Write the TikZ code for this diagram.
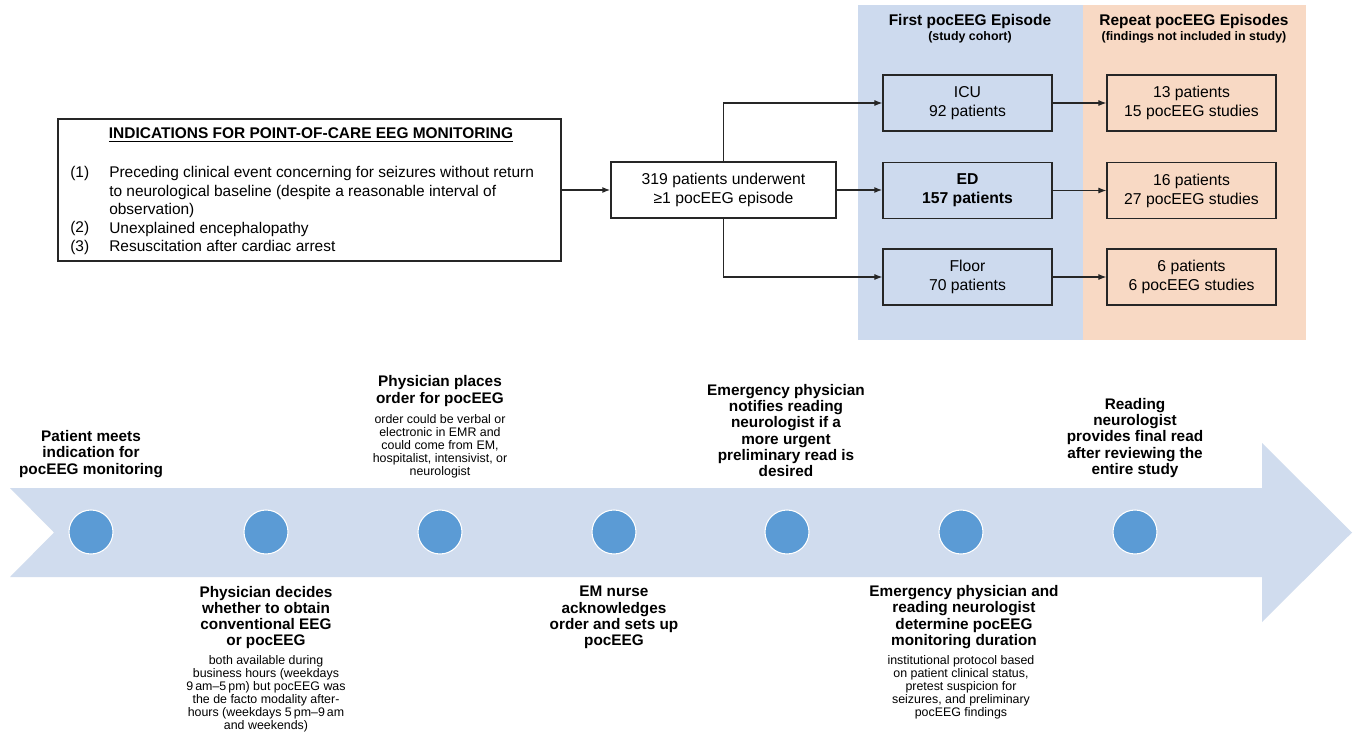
\documentclass[tikz,border=0pt]{standalone}
\usepackage{fontspec}
\setmainfont{Liberation Sans}
\usetikzlibrary{arrows.meta}
\definecolor{panelblue}{RGB}{205,218,238}
\definecolor{panelorange}{RGB}{248,217,196}
\definecolor{bandblue}{RGB}{208,220,238}
\definecolor{dotblue}{RGB}{91,155,213}
\definecolor{edge}{RGB}{38,38,38}
\begin{document}
\begin{tikzpicture}[x=0.75pt,y=-0.75pt,
  flowbox/.style={draw=edge,line width=0.9pt,minimum width=126.75pt,minimum height=42pt,inner sep=0pt,align=center,font=\fontsize{11.8}{14.25}\selectfont},
  arr/.style={-{Latex[length=6pt,width=4.5pt]},line width=0.8pt,draw=edge},
  thickarr/.style={arr,line width=1.7pt},
  head/.style={font=\bfseries\fontsize{11.5}{12.2}\selectfont,align=center,inner sep=0pt},
  detail/.style={font=\fontsize{9.3}{9.7}\selectfont,align=center,inner sep=0pt},
  dot/.style={circle,fill=dotblue,draw=white,line width=0.8pt,minimum size=33pt,inner sep=0pt},
  numtext/.style={font=\fontsize{11.6}{13.9}\selectfont,inner sep=0pt}]
\useasboundingbox (0,0) rectangle (1354,733);
\fill[white] (0,0) rectangle (1354,733);
% panels
\fill[panelblue] (858,5) rectangle (1083,340);
\fill[panelorange] (1083,5) rectangle (1306,340);
\node[font=\bfseries\fontsize{11.6}{13}\selectfont,inner sep=0pt] (h1) at (970,21) {First pocEEG Episode};
\node[font=\bfseries\fontsize{9.3}{11}\selectfont,inner sep=0pt] (h1s) at (970,37) {(study cohort)};
\node[font=\bfseries\fontsize{11.6}{13}\selectfont,inner sep=0pt] (h2) at (1194,21) {Repeat pocEEG Episodes};
\node[font=\bfseries\fontsize{9.3}{11}\selectfont,inner sep=0pt] (h2s) at (1194,37) {(findings not included in study)};
% indications box
\node[draw=edge,line width=0.9pt,minimum width=377.25pt,minimum height=106.5pt,inner sep=0pt] (ind) at (309.5,190) {};
\node[font=\bfseries\fontsize{11.6}{14}\selectfont,inner sep=0pt] (indt) at (311,135) {\underline{INDICATIONS FOR POINT-OF-CARE EEG MONITORING}};
\node[numtext,anchor=west] (n1) at (70,173) {(1)};
\node[numtext,anchor=west] (n2) at (70,228) {(2)};
\node[numtext,anchor=west] (n3) at (70,247) {(3)};
\node[numtext,anchor=north west,align=left] (items) at (109,166) {Preceding clinical event concerning for seizures without return\\to neurological baseline (despite a reasonable interval of\\observation)\\Unexplained encephalopathy\\Resuscitation after cardiac arrest};
% flow boxes
\node[flowbox,minimum width=168.75pt] (all) at (723.5,190) {319 patients underwent\\≥1 pocEEG episode};
\node[flowbox] (icu) at (967.5,103) {ICU\\92 patients};
\node[flowbox,font=\bfseries\fontsize{11.8}{14.25}\selectfont] (ed) at (967.5,190.5) {ED\\157 patients};
\node[flowbox] (flo) at (967.5,277) {Floor\\70 patients};
\node[flowbox] (r1) at (1191.5,103) {13 patients\\15 pocEEG studies};
\node[flowbox] (r2) at (1191.5,190.5) {16 patients\\27 pocEEG studies};
\node[flowbox] (r3) at (1191.5,277) {6 patients\\6 pocEEG studies};
% connectors
\draw[thickarr] (ind.east) -- (all.west);
\draw[arr] (all.north) |- (icu.west);
\draw[thickarr] (all.east) -- (all.east -| ed.west);
\draw[arr] (all.south) |- (flo.west);
\draw[arr] (icu.east) -- (r1.west);
\draw[arr] (ed.east) -- (r2.west);
\draw[arr] (flo.east) -- (r3.west);
% timeline band
\fill[bandblue] (10,488) -- (1262,488) -- (1262,443) -- (1352,532.5) -- (1262,622) -- (1262,577) -- (10,577) -- (54,532.5) -- cycle;
\node[dot] (d1) at (91,532) {};
\node[dot] (d2) at (266,532) {};
\node[dot] (d3) at (440,532) {};
\node[dot] (d4) at (614,532) {};
\node[dot] (d5) at (787,532) {};
\node[dot] (d6) at (961,532) {};
\node[dot] (d7) at (1135,532) {};
% timeline texts above
\node[head] (t1) at (91,454) {Patient meets\\indication for\\pocEEG monitoring};
\node[head] (t3) at (440,391) {Physician places\\order for pocEEG};
\node[detail] (t3d) at (440,446.5) {order could be verbal or\\electronic in EMR and\\could come from EM,\\hospitalist, intensivist, or\\neurologist};
\node[head] (t5) at (786,430.5) {Emergency physician\\notifies reading\\neurologist if a\\more urgent\\preliminary read is\\desired};
\node[head] (t7) at (1135,438) {Reading\\neurologist\\provides final read\\after reviewing the\\entire study};
% timeline texts below
\node[head] (t2) at (266,617.5) {Physician decides\\whether to obtain\\conventional EEG\\or pocEEG};
\node[detail] (t2d) at (266,694) {both available during\\business hours (weekdays\\9\,am–5\,pm) but pocEEG was\\the de facto modality after-\\hours (weekdays 5\,pm–9\,am\\and weekends)};
\node[head] (t4) at (614,617.5) {EM nurse\\acknowledges\\order and sets up\\pocEEG};
\node[head] (t6) at (964,617) {Emergency physician and\\reading neurologist\\determine pocEEG\\monitoring duration};
\node[detail] (t6d) at (961,687.5) {institutional protocol based\\on patient clinical status,\\pretest suspicion for\\seizures, and preliminary\\pocEEG findings};
\end{tikzpicture}
\end{document}
